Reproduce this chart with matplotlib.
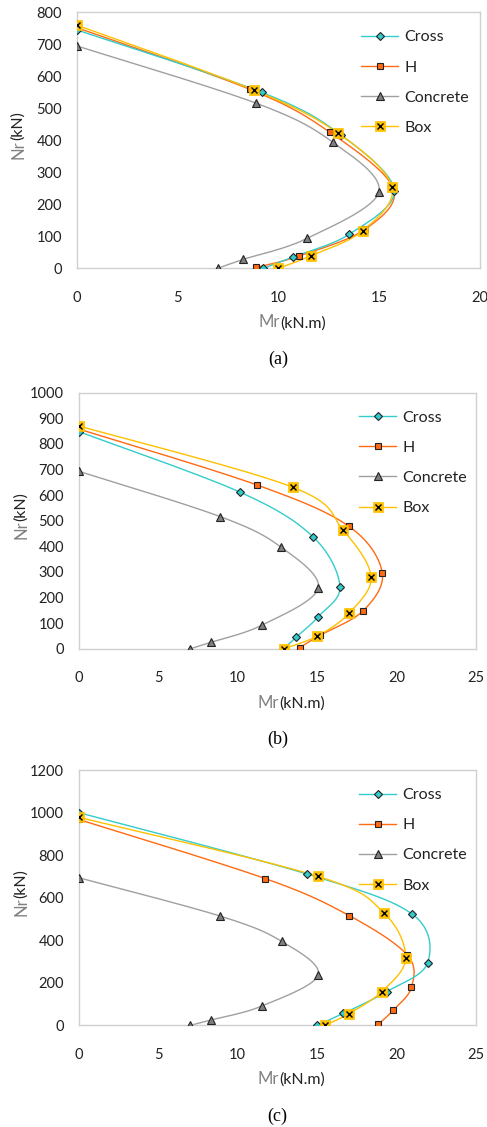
import numpy as np
import matplotlib.pyplot as plt
from matplotlib.lines import Line2D

# Mr (kN.m) / Nr (kN) interaction points, three column sections
# (a)
a_cross_m = [0, 9.17, 13.1, 15.75, 13.5, 10.74, 9.26]
a_cross_n = [745, 550, 417, 243, 106, 36, 0]
a_h_m = [0, 8.6, 12.56, 15.7, 14.3, 11.0, 8.9]
a_h_n = [752, 559, 425, 250, 122, 38, 3]
a_conc_m = [0, 8.9, 12.7, 14.98, 11.44, 8.26, 6.99]
a_conc_n = [695, 516, 394, 238, 94, 28, 0]
a_box_m = [0, 8.79, 12.97, 15.64, 14.18, 11.6, 10.0]
a_box_n = [760, 557, 422, 255, 117, 39, 0]

# (b)
b_cross_m = [0, 10.13, 14.76, 16.44, 15.07, 13.67, 12.9]
b_cross_n = [848, 612, 436, 242, 125, 44, 0]
b_h_m = [0, 11.24, 17.0, 19.1, 17.9, 15.2, 13.9]
b_h_n = [858, 639, 478, 297, 148, 53, 4]
b_conc_m = [0, 8.9, 12.75, 15.07, 11.53, 8.32, 7.02]
b_conc_n = [693, 516, 396, 236, 92, 25, 0]
b_box_m = [0, 13.5, 16.65, 18.4, 17.0, 15.0, 12.9]
b_box_n = [870, 630, 462, 280, 138, 49, 0]

# (c)
c_cross_m = [0, 14.34, 21.0, 21.95, 19.37, 16.65, 14.99]
c_cross_n = [1000, 712, 522, 293, 158, 56, 0]
c_h_m = [0, 11.74, 17.02, 20.67, 20.94, 19.79, 18.85]
c_h_n = [968, 690, 516, 331, 179, 71, 5]
c_conc_m = [0, 8.89, 12.77, 15.07, 11.53, 8.32, 7.02]
c_conc_n = [694, 514, 395, 237, 91, 25, 0]
c_box_m = [0, 15.07, 19.22, 20.57, 19.06, 17.0, 15.5]
c_box_n = [978, 700, 527, 315, 158, 55, 0]

series_names = ['Cross', 'H', 'Concrete', 'Box']
panel_labels = ['(a)', '(b)', '(c)']

C_CROSS = '#33CCCC'
C_H = '#FF6A13'
C_CONC = '#A0A0A0'
C_CONC_M = '#7F7F7F'
C_BOX = '#FFC000'

LATIN = 'Lato'

# marker styles shared by the plot and the legend
MK_CROSS = dict(marker='D', ms=4.2, mfc=C_CROSS, mec='#222222', mew=0.8)
MK_H = dict(marker='s', ms=4.4, mfc=C_H, mec='#222222', mew=0.8)
MK_CONC = dict(marker='^', ms=5.2, mfc=C_CONC_M, mec='#222222', mew=0.8)
MK_BOX = dict(marker='s', ms=7.6, mfc=C_BOX, mec=C_BOX, mew=0.5)
MK_BOX_X = dict(marker='x', ms=4.2, mec='black', mew=1.0)


def smooth(xs, ys, sx, sy, n=30):
    # Catmull-Rom through the points, computed in screen-like units
    p = np.column_stack([np.asarray(xs, float) * sx, np.asarray(ys, float) * sy])
    p = np.vstack([p[0], p, p[-1]])
    out = []
    for i in range(1, len(p) - 2):
        p0, p1, p2, p3 = p[i - 1], p[i], p[i + 1], p[i + 2]
        t = np.linspace(0, 1, n)[:, None]
        seg = 0.5 * ((2 * p1) + (-p0 + p2) * t + (2 * p0 - 5 * p1 + 4 * p2 - p3) * t ** 2
                     + (-p0 + 3 * p1 - 3 * p2 + p3) * t ** 3)
        out.append(seg)
    out = np.vstack(out)
    return out[:, 0] / sx, out[:, 1] / sy


def draw_panel(ax, data, xmax, ymax, ystep, label):
    w_px = ax.get_position().width * 487
    h_px = ax.get_position().height * 1127
    sx, sy = w_px / xmax, h_px / ymax
    (cm, cn), (hm, hn), (km, kn), (bm, bn) = data

    x, y = smooth(km, kn, sx, sy)
    ax.plot(x, y, color=C_CONC, lw=1.0, zorder=2)
    x, y = smooth(hm, hn, sx, sy)
    ax.plot(x, y, color=C_H, lw=1.0, zorder=2)
    x, y = smooth(cm, cn, sx, sy)
    ax.plot(x, y, color=C_CROSS, lw=1.0, zorder=2)
    x, y = smooth(bm, bn, sx, sy)
    ax.plot(x, y, color=C_BOX, lw=1.0, zorder=2)

    ax.plot(km, kn, ls='none', zorder=3, **MK_CONC)
    ax.plot(hm, hn, ls='none', zorder=3, **MK_H)
    ax.plot(cm, cn, ls='none', zorder=3, **MK_CROSS)
    ax.plot(bm, bn, ls='none', zorder=4, **MK_BOX)
    ax.plot(bm, bn, ls='none', zorder=5, **MK_BOX_X)

    ax.set_xlim(0, xmax)
    ax.set_ylim(0, ymax)
    ax.set_xticks(np.arange(0, xmax + 0.1, 5))
    ax.set_yticks(np.arange(0, ymax + 1, ystep))
    for s in ax.spines.values():
        s.set_color('#D0D0D0')
        s.set_linewidth(1.0)
    ax.tick_params(length=0, labelsize=10.5, colors='#222222')
    ax.tick_params(axis='x', pad=16)
    ax.tick_params(axis='y', pad=10.5)
    for t in ax.get_xticklabels() + ax.get_yticklabels():
        t.set_fontfamily(LATIN)

    # legend
    handles = [
        Line2D([], [], color=C_CROSS, lw=1.0, **MK_CROSS),
        Line2D([], [], color=C_H, lw=1.0, **MK_H),
        Line2D([], [], color=C_CONC, lw=1.0, **MK_CONC),
        (Line2D([], [], color=C_BOX, lw=1.0, **MK_BOX),
         Line2D([], [], ls='none', **MK_BOX_X)),
    ]
    leg = ax.legend(handles, series_names, loc='upper left', bbox_to_anchor=(0.69, 0.955),
                    frameon=False, prop={'family': LATIN, 'size': 11.5}, handlelength=2.3,
                    labelspacing=1.0, handletextpad=0.4, borderaxespad=0)
    for t in leg.get_texts():
        t.set_color('#222222')

    # axis titles: grey symbol, dark unit
    xl = ax.text(0.505, -0.23, 'Mr', transform=ax.transAxes, ha='right', va='baseline',
                 fontsize=12, color='#808080', family=LATIN)
    ax.annotate('(kN.m)', xy=(1, 0), xycoords=xl, va='bottom', ha='left',
                fontsize=11.5, color='#222222', family=LATIN)
    yl = ax.text(-0.145, 0.5, 'Nr', transform=ax.transAxes, rotation=90, ha='center',
                 va='top', fontsize=12, color='#808080', family=LATIN)
    ax.annotate('(kN)', xy=(0.5, 1), xycoords=yl, rotation=90, ha='center', va='bottom',
                fontsize=11.5, color='#222222', family=LATIN)

    ax.text(0.5, -0.355, label, transform=ax.transAxes, ha='center', va='center',
            fontsize=13, family='Liberation Serif', color='black')


fig = plt.figure(figsize=(4.87, 11.27), dpi=100)
ax_a = fig.add_axes([0.1575, 0.7619, 0.8281, 0.2272])
ax_b = fig.add_axes([0.1616, 0.4244, 0.8158, 0.2272])
ax_c = fig.add_axes([0.1616, 0.0902, 0.8158, 0.2265])

draw_panel(ax_a, [(a_cross_m, a_cross_n), (a_h_m, a_h_n), (a_conc_m, a_conc_n), (a_box_m, a_box_n)],
           20, 800, 100, panel_labels[0])
draw_panel(ax_b, [(b_cross_m, b_cross_n), (b_h_m, b_h_n), (b_conc_m, b_conc_n), (b_box_m, b_box_n)],
           25, 1000, 100, panel_labels[1])
draw_panel(ax_c, [(c_cross_m, c_cross_n), (c_h_m, c_h_n), (c_conc_m, c_conc_n), (c_box_m, c_box_n)],
           25, 1200, 200, panel_labels[2])

fig.savefig('out.png', dpi=100)
